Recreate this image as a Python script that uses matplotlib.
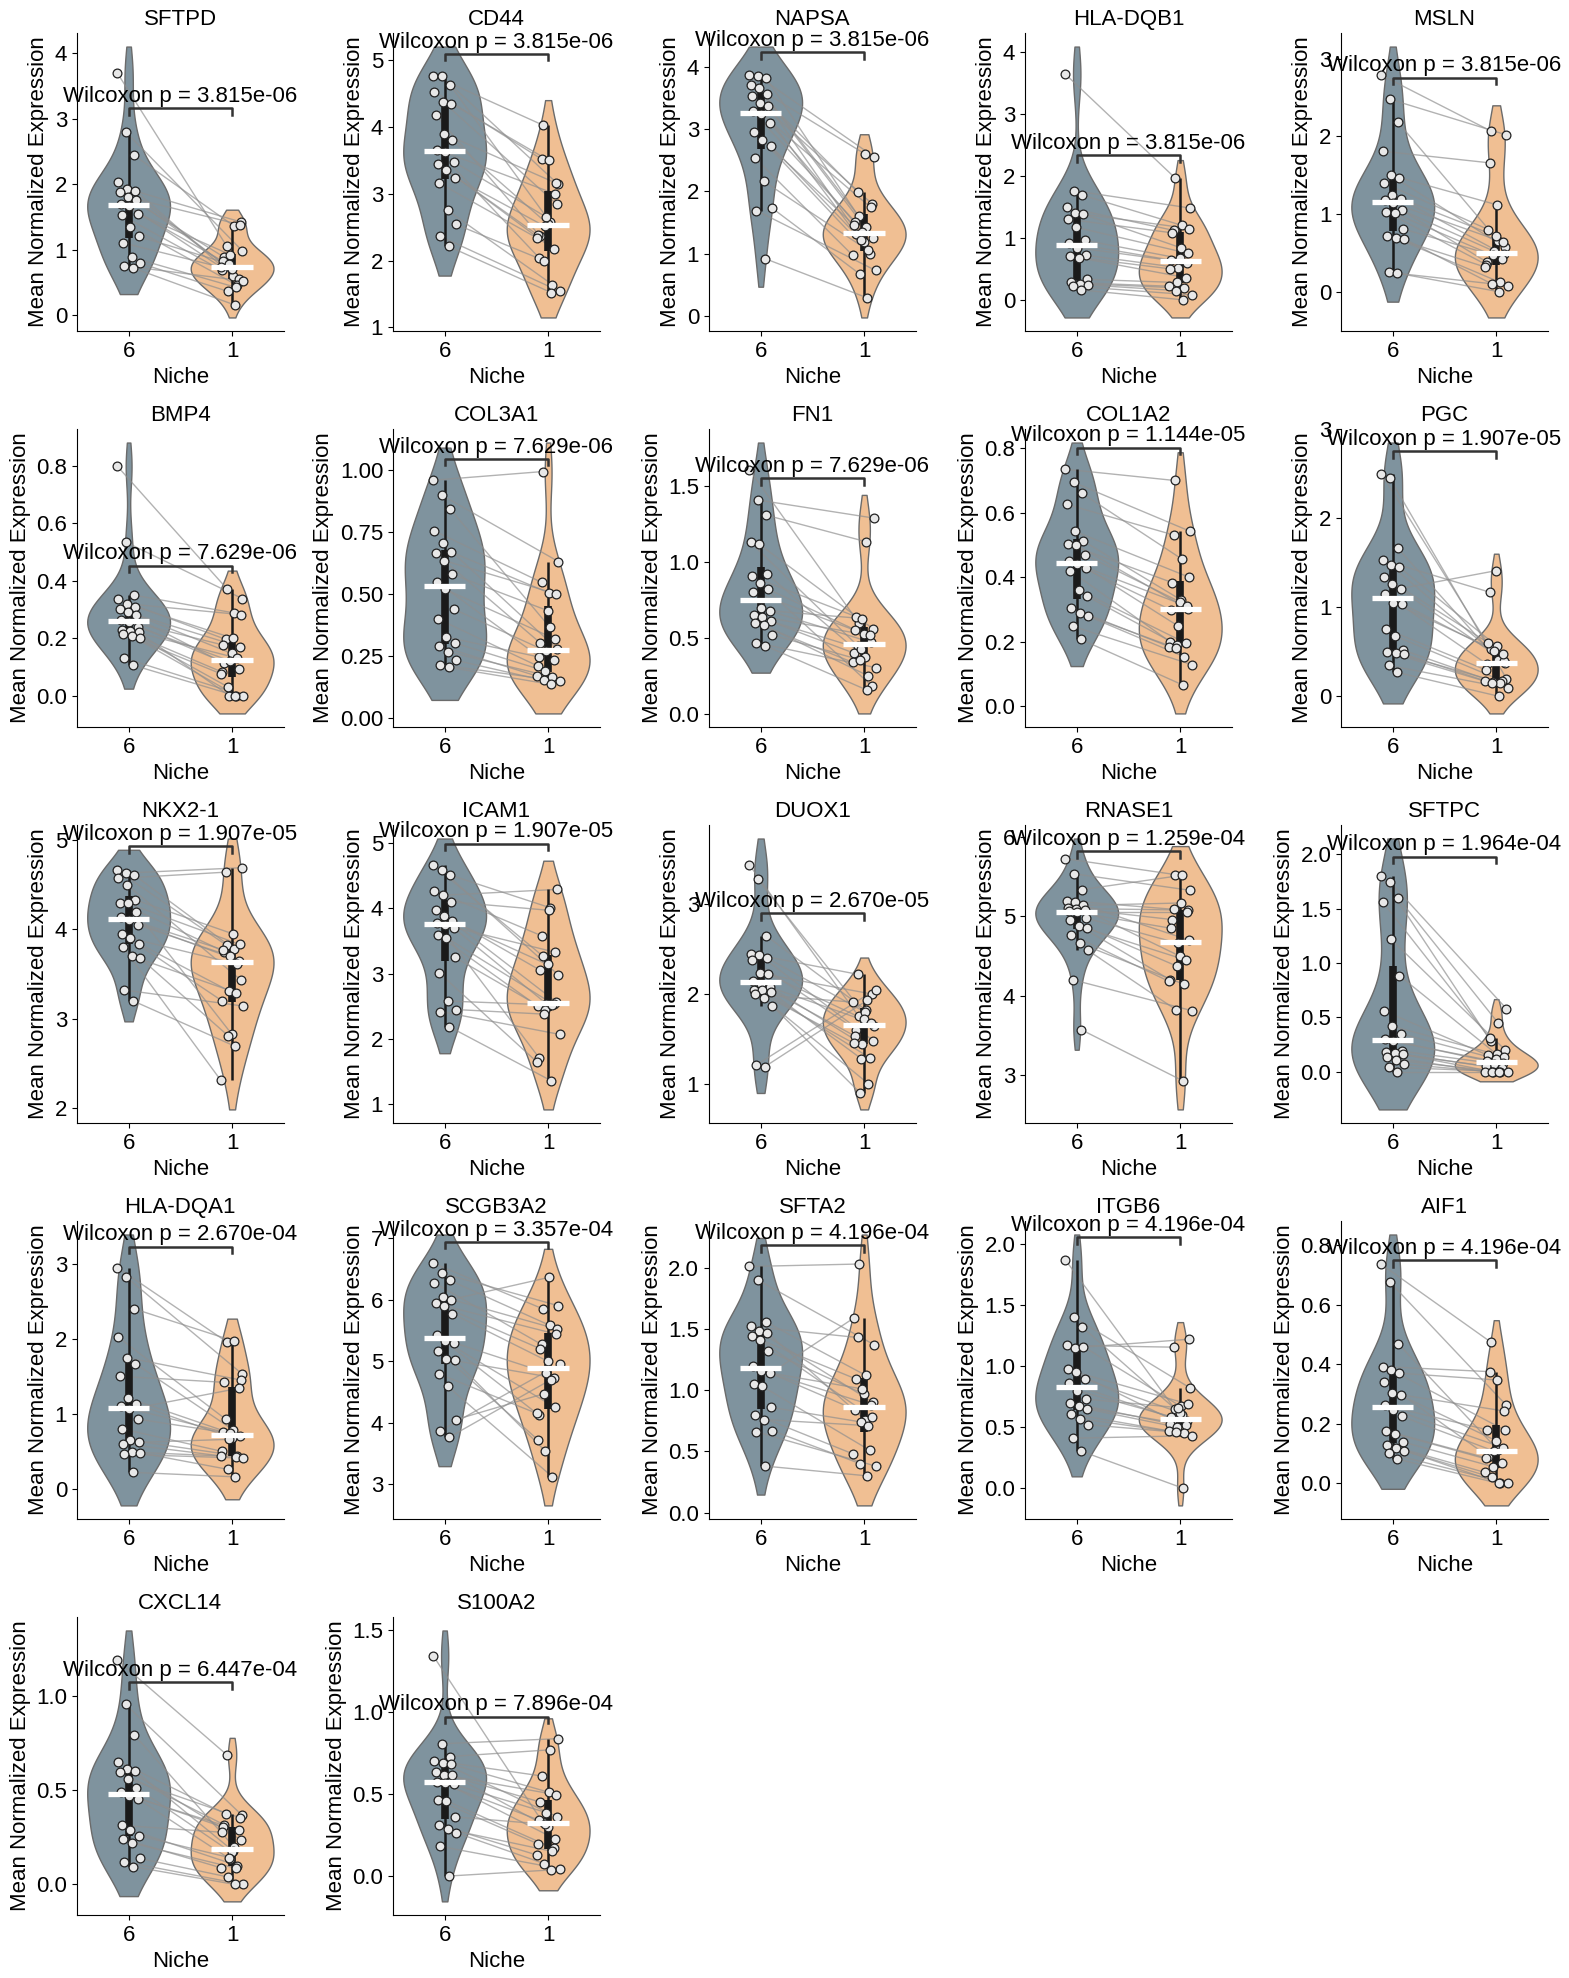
import numpy as np
import pandas as pd
import matplotlib
matplotlib.use("Agg")
import matplotlib.pyplot as plt
import seaborn as sns

plt.rcParams['font.family'] = ['Liberation Sans', 'DejaVu Sans']

# ---------------- data (Niche 6 values, Niche 1 values, paired by index) ----------------
genes = ["SFTPD", "CD44", "NAPSA", "HLA-DQB1", "MSLN",
         "BMP4", "COL3A1", "FN1", "COL1A2", "PGC",
         "NKX2-1", "ICAM1", "DUOX1", "RNASE1", "SFTPC",
         "HLA-DQA1", "SCGB3A2", "SFTA2", "ITGB6", "AIF1",
         "CXCL14", "S100A2"]
pvals = ["3.815e-06", "3.815e-06", "3.815e-06", "3.815e-06", "3.815e-06",
         "7.629e-06", "7.629e-06", "7.629e-06", "1.144e-05", "1.907e-05",
         "1.907e-05", "1.907e-05", "2.670e-05", "1.259e-04", "1.964e-04",
         "2.670e-04", "3.357e-04", "4.196e-04", "4.196e-04", "4.196e-04",
         "6.447e-04", "7.896e-04"]
niches = ["6", "1"]

sftpd_6 = [3.7, 2.8, 2.44, 2.03, 1.93, 1.9, 1.88, 1.8, 1.75, 1.7, 1.66, 1.55, 1.52, 1.35, 1.2, 1.1, 0.88, 0.79, 0.75, 0.72]
sftpd_1 = [1.05, 0.98, 1.36, 0.75, 1.42, 0.6, 0.88, 1.38, 0.7, 0.82, 0.55, 0.92, 0.68, 0.45, 0.78, 0.73, 0.42, 0.36, 0.52, 0.15]
cd44_6 = [4.77, 4.76, 4.63, 4.53, 4.38, 4.35, 4.18, 3.9, 3.8, 3.66, 3.62, 3.48, 3.44, 3.36, 3.24, 3.16, 2.75, 2.54, 2.36, 2.21]
cd44_1 = [4.03, 3.14, 2.58, 3.52, 2.84, 3.5, 2.36, 3.16, 2.55, 2.04, 3.0, 2.65, 2.38, 2.17, 2.51, 2.34, 1.64, 2.0, 1.54, 1.52]
napsa_6 = [3.87, 3.85, 3.82, 3.71, 3.65, 3.56, 3.53, 3.42, 3.37, 3.28, 3.24, 3.1, 2.95, 2.82, 2.73, 2.53, 2.16, 1.73, 1.69, 0.92]
napsa_1 = [1.6, 2.55, 1.42, 1.99, 1.25, 2.6, 1.31, 1.8, 1.19, 1.51, 1.74, 1.35, 1.46, 1.0, 1.22, 0.97, 1.05, 0.67, 0.73, 0.29]
hladqb1_6 = [3.64, 1.76, 1.69, 1.49, 1.4, 1.38, 1.3, 1.17, 0.96, 0.92, 0.84, 0.72, 0.7, 0.68, 0.33, 0.28, 0.26, 0.24, 0.22, 0.16]
hladqb1_1 = [1.97, 1.48, 1.2, 1.12, 1.15, 0.84, 1.08, 0.75, 0.67, 0.64, 0.6, 0.52, 0.5, 0.36, 0.28, 0.22, 0.19, 0.15, 0.08, 0.0]
msln_6 = [2.79, 2.48, 2.18, 1.81, 1.5, 1.47, 1.4, 1.25, 1.2, 1.18, 1.14, 1.05, 1.03, 1.01, 0.81, 0.72, 0.69, 0.68, 0.25, 0.24]
msln_1 = [2.07, 2.02, 0.66, 1.66, 0.57, 1.12, 0.8, 0.48, 0.72, 0.38, 0.64, 0.52, 0.35, 0.42, 0.47, 0.32, 0.12, 0.1, 0.08, 0.0]
bmp4_6 = [0.8, 0.535, 0.35, 0.335, 0.32, 0.31, 0.30, 0.29, 0.28, 0.265, 0.255, 0.24, 0.23, 0.226, 0.22, 0.215, 0.208, 0.2, 0.13, 0.106]
bmp4_1 = [0.373, 0.338, 0.288, 0.196, 0.282, 0.2, 0.112, 0.17, 0.147, 0.176, 0.094, 0.12, 0.082, 0.13, 0.0, 0.076, 0.0, 0.03, 0.0, 0.0]
col3a1_6 = [0.96, 0.9, 0.845, 0.755, 0.705, 0.67, 0.665, 0.636, 0.58, 0.55, 0.52, 0.44, 0.40, 0.327, 0.303, 0.292, 0.268, 0.233, 0.215, 0.205]
col3a1_1 = [0.995, 0.632, 0.366, 0.548, 0.28, 0.506, 0.303, 0.502, 0.434, 0.248, 0.32, 0.27, 0.21, 0.234, 0.19, 0.17, 0.166, 0.152, 0.15, 0.136]
fn1_6 = [1.61, 1.41, 1.31, 1.13, 1.12, 0.92, 0.906, 0.86, 0.82, 0.806, 0.695, 0.68, 0.65, 0.64, 0.61, 0.6, 0.584, 0.52, 0.468, 0.45]
fn1_1 = [0.6, 1.29, 1.135, 0.45, 0.56, 0.372, 0.64, 0.183, 0.528, 0.55, 0.472, 0.628, 0.4, 0.517, 0.428, 0.339, 0.25, 0.356, 0.305, 0.156]
col1a2_6 = [0.735, 0.694, 0.66, 0.626, 0.542, 0.512, 0.503, 0.50, 0.47, 0.45, 0.44, 0.43, 0.42, 0.36, 0.341, 0.304, 0.29, 0.28, 0.248, 0.207]
col1a2_1 = [0.7, 0.542, 0.456, 0.531, 0.4, 0.33, 0.383, 0.302, 0.324, 0.298, 0.31, 0.248, 0.2, 0.196, 0.19, 0.185, 0.153, 0.18, 0.129, 0.065]
pgc_6 = [2.5, 2.45, 1.66, 1.53, 1.47, 1.45, 1.34, 1.26, 1.21, 1.15, 1.05, 1.04, 0.755, 0.68, 0.52, 0.5, 0.486, 0.474, 0.348, 0.27]
pgc_1 = [0.534, 0.2, 0.41, 1.17, 0.38, 0.565, 0.6, 0.4, 1.41, 0.36, 0.48, 0.506, 0.296, 0.178, 0.165, 0.17, 0.155, 0.15, 0.09, 0.0]
nkx21_6 = [4.66, 4.63, 4.61, 4.57, 4.5, 4.33, 4.3, 4.29, 4.19, 4.14, 4.1, 4.05, 3.95, 3.9, 3.84, 3.8, 3.7, 3.68, 3.32, 3.2]
nkx21_1 = [3.82, 4.69, 3.78, 4.64, 3.43, 3.95, 3.75, 3.83, 2.83, 3.77, 3.65, 3.7, 3.2, 3.61, 3.31, 2.31, 3.29, 2.81, 3.14, 2.69]
icam1_6 = [4.66, 4.59, 4.51, 4.27, 4.2, 4.1, 3.97, 3.89, 3.8, 3.78, 3.74, 3.7, 3.59, 3.55, 3.25, 3.01, 2.58, 2.45, 2.42, 2.19]
icam1_1 = [3.27, 2.98, 4.01, 3.58, 4.29, 3.97, 3.05, 2.57, 3.14, 1.71, 3.33, 2.54, 2.5, 2.53, 2.45, 1.65, 2.52, 2.38, 2.07, 1.36]
duox1_6 = [3.44, 3.28, 2.65, 2.45, 2.44, 2.4, 2.38, 2.23, 2.22, 2.15, 2.11, 2.08, 2.05, 2.04, 2.02, 1.996, 1.95, 1.87, 1.21, 1.19]
duox1_1 = [1.75, 1.64, 1.82, 2.22, 1.48, 1.8, 1.6, 2.0, 1.72, 1.53, 1.68, 1.44, 1.45, 1.29, 1.28, 1.91, 1.0, 0.9, 2.05, 1.93]
rnase1_6 = [5.73, 5.54, 5.34, 5.2, 5.18, 5.14, 5.11, 5.1, 5.08, 5.07, 5.05, 4.98, 4.95, 4.88, 4.86, 4.77, 4.66, 4.57, 4.2, 3.57]
rnase1_1 = [5.53, 5.33, 5.52, 5.09, 4.7, 5.17, 4.96, 5.08, 4.5, 4.85, 5.05, 4.66, 4.2, 4.45, 4.37, 4.18, 4.14, 3.82, 3.81, 2.92]
sftpc_6 = [1.8, 1.75, 1.6, 1.565, 1.22, 0.885, 0.56, 0.42, 0.35, 0.3, 0.28, 0.19, 0.18, 0.17, 0.16, 0.14, 0.106, 0.068, 0.042, 0.0]
sftpc_1 = [0.28, 0.58, 0.45, 0.31, 0.2, 0.16, 0.15, 0.14, 0.12, 0.1, 0.08, 0.074, 0.05, 0.03, 0.0, 0.0, 0.0, 0.0, 0.0, 0.0]
hladqa1_6 = [2.95, 2.83, 2.4, 2.02, 1.75, 1.67, 1.5, 1.21, 1.13, 1.1, 1.06, 0.93, 0.8, 0.65, 0.62, 0.6, 0.49, 0.48, 0.46, 0.22]
hladqa1_1 = [1.96, 1.53, 1.97, 0.93, 1.45, 0.79, 1.42, 0.7, 0.68, 0.76, 1.34, 0.74, 0.5, 0.44, 0.66, 0.44, 0.43, 0.26, 0.41, 0.16]
scgb3a2_6 = [6.59, 6.43, 6.31, 6.27, 6.04, 6.0, 5.94, 5.9, 5.77, 5.42, 5.32, 5.3, 5.17, 5.03, 5.01, 4.79, 4.59, 4.05, 3.87, 3.76]
scgb3a2_1 = [5.85, 5.9, 5.58, 5.27, 5.52, 6.36, 5.2, 5.44, 5.0, 4.12, 4.25, 4.81, 3.72, 4.73, 3.54, 4.15, 3.12, 4.47, 4.95, 4.7]
sfta2_6 = [2.01, 1.9, 1.556, 1.52, 1.48, 1.47, 1.44, 1.41, 1.32, 1.2, 1.16, 1.14, 1.05, 1.03, 0.86, 0.8, 0.76, 0.67, 0.66, 0.38]
sfta2_1 = [2.03, 1.37, 1.12, 1.43, 0.9, 0.76, 1.09, 0.78, 0.97, 0.84, 0.88, 1.01, 1.59, 0.51, 0.74, 0.48, 0.71, 0.4, 0.38, 0.3]
itgb6_6 = [1.87, 1.4, 1.32, 1.17, 1.15, 1.16, 0.98, 0.95, 0.895, 0.86, 0.8, 0.73, 0.7, 0.67, 0.65, 0.61, 0.57, 0.52, 0.41, 0.305]
itgb6_1 = [0.65, 0.82, 0.6, 1.155, 1.22, 0.67, 0.56, 0.69, 0.62, 0.58, 0.55, 0.66, 0.53, 0.52, 0.5, 0.47, 0.45, 0.46, 0.43, 0.0]
aif1_6 = [0.735, 0.676, 0.469, 0.392, 0.381, 0.37, 0.341, 0.302, 0.296, 0.262, 0.248, 0.225, 0.176, 0.167, 0.139, 0.13, 0.12, 0.11, 0.101, 0.082]
aif1_1 = [0.474, 0.262, 0.112, 0.375, 0.178, 0.347, 0.09, 0.243, 0.144, 0.18, 0.12, 0.108, 0.086, 0.068, 0.056, 0.037, 0.0, 0.02, 0.0, 0.0]
cxcl14_6 = [1.19, 0.955, 0.795, 0.652, 0.61, 0.602, 0.598, 0.559, 0.513, 0.49, 0.47, 0.455, 0.313, 0.289, 0.259, 0.241, 0.22, 0.138, 0.12, 0.095]
cxcl14_1 = [0.688, 0.366, 0.2, 0.375, 0.236, 0.18, 0.316, 0.354, 0.17, 0.304, 0.289, 0.134, 0.277, 0.1, 0.143, 0.089, 0.086, 0.04, 0.0, 0.0]
s100a2_6 = [1.34, 0.805, 0.727, 0.702, 0.687, 0.68, 0.636, 0.615, 0.613, 0.575, 0.565, 0.557, 0.46, 0.458, 0.36, 0.31, 0.285, 0.264, 0.18, 0.0]
s100a2_1 = [0.326, 0.836, 0.768, 0.609, 0.361, 0.51, 0.45, 0.495, 0.3, 0.34, 0.227, 0.386, 0.196, 0.169, 0.315, 0.128, 0.15, 0.076, 0.045, 0.037]

niche6 = [sftpd_6, cd44_6, napsa_6, hladqb1_6, msln_6, bmp4_6, col3a1_6, fn1_6, col1a2_6, pgc_6,
          nkx21_6, icam1_6, duox1_6, rnase1_6, sftpc_6, hladqa1_6, scgb3a2_6, sfta2_6, itgb6_6, aif1_6,
          cxcl14_6, s100a2_6]
niche1 = [sftpd_1, cd44_1, napsa_1, hladqb1_1, msln_1, bmp4_1, col3a1_1, fn1_1, col1a2_1, pgc_1,
          nkx21_1, icam1_1, duox1_1, rnase1_1, sftpc_1, hladqa1_1, scgb3a2_1, sfta2_1, itgb6_1, aif1_1,
          cxcl14_1, s100a2_1]

# ---------------- style ----------------
palette = {"6": "#7F939E", "1": "#F0BF93"}
FS = 16
TFS = 16

fig, axes = plt.subplots(5, 5, figsize=(15.69, 19.78), dpi=100)
fig.subplots_adjust(left=0.049, right=0.9866, top=0.9833, bottom=0.0319,
                    wspace=0.527, hspace=0.329)


def box_stats(v):
    v = np.asarray(v, dtype=float)
    q1, med, q3 = np.percentile(v, [25, 50, 75])
    iqr = q3 - q1
    lo = v[v >= q1 - 1.5 * iqr].min()
    hi = v[v <= q3 + 1.5 * iqr].max()
    return q1, med, q3, lo, hi


for k, gene in enumerate(genes):
    ax = axes.flat[k]
    a = np.asarray(niche6[k], dtype=float)
    b = np.asarray(niche1[k], dtype=float)
    df = pd.DataFrame({"Niche": ["6"] * len(a) + ["1"] * len(b),
                       "val": np.concatenate([a, b])})
    sns.violinplot(data=df, x="Niche", y="val", hue="Niche", order=niches,
                   hue_order=niches, palette=palette, cut=1, density_norm="width",
                   inner=None, linewidth=1, linecolor="#6b6b6b", saturation=1,
                   legend=False, width=0.8, ax=ax)
    for coll in ax.collections:
        coll.set_zorder(1)

    n = len(a)
    idx = np.arange(n)
    jit6 = (((idx * 7) % n) / (n - 1) - 0.5) * 0.22
    jit1 = (((idx * 13 + 5) % n) / (n - 1) - 0.5) * 0.22
    x6 = 0 + jit6
    x1 = 1 + jit1

    # paired lines
    for i in range(n):
        ax.plot([x6[i], x1[i]], [a[i], b[i]], color="#8e8e8e", alpha=0.68,
                lw=1.0, zorder=2)

    # inner box
    stats = [box_stats(a), box_stats(b)]
    for pos, (q1, med, q3, lo, hi) in enumerate(stats):
        ax.vlines(pos, lo, hi, color="#1a1a1a", lw=1.8, zorder=3)
        ax.vlines(pos, q1, q3, color="#1a1a1a", lw=5.5, zorder=3)

    # points
    ax.scatter(x6, a, s=40, facecolor="#e8e8e8", edgecolor="#222222",
               linewidth=0.9, zorder=5)
    ax.scatter(x1, b, s=40, facecolor="#e8e8e8", edgecolor="#222222",
               linewidth=0.9, zorder=5)

    # medians
    for pos, (q1, med, q3, lo, hi) in enumerate(stats):
        ax.hlines(med, pos - 0.2, pos + 0.2, color="white", lw=3.8, zorder=6)

    # significance bracket
    allv = np.concatenate([a, b])
    rng = allv.max() - allv.min()
    yb = max(stats[0][4], stats[1][4]) + 0.1 * rng
    h = 0.03 * rng
    ax.plot([0, 0, 1, 1], [yb - h, yb, yb, yb - h], color="#333333", lw=1.8,
            zorder=7)
    ax.annotate(f"Wilcoxon p = {pvals[k]}", xy=(0.5, yb), xytext=(0, 1),
                textcoords="offset points", ha="center", va="bottom",
                fontsize=FS, zorder=8)

    ax.set_xlim(-0.5, 1.5)
    ax.set_title(gene, fontsize=FS)
    ax.set_xlabel("Niche", fontsize=FS)
    ax.set_ylabel("Mean Normalized Expression", fontsize=FS)
    ax.tick_params(labelsize=TFS)
    ax.spines["top"].set_visible(False)
    ax.spines["right"].set_visible(False)

for k in range(len(genes), 25):
    axes.flat[k].axis("off")

fig.savefig("out.png", dpi=100)
